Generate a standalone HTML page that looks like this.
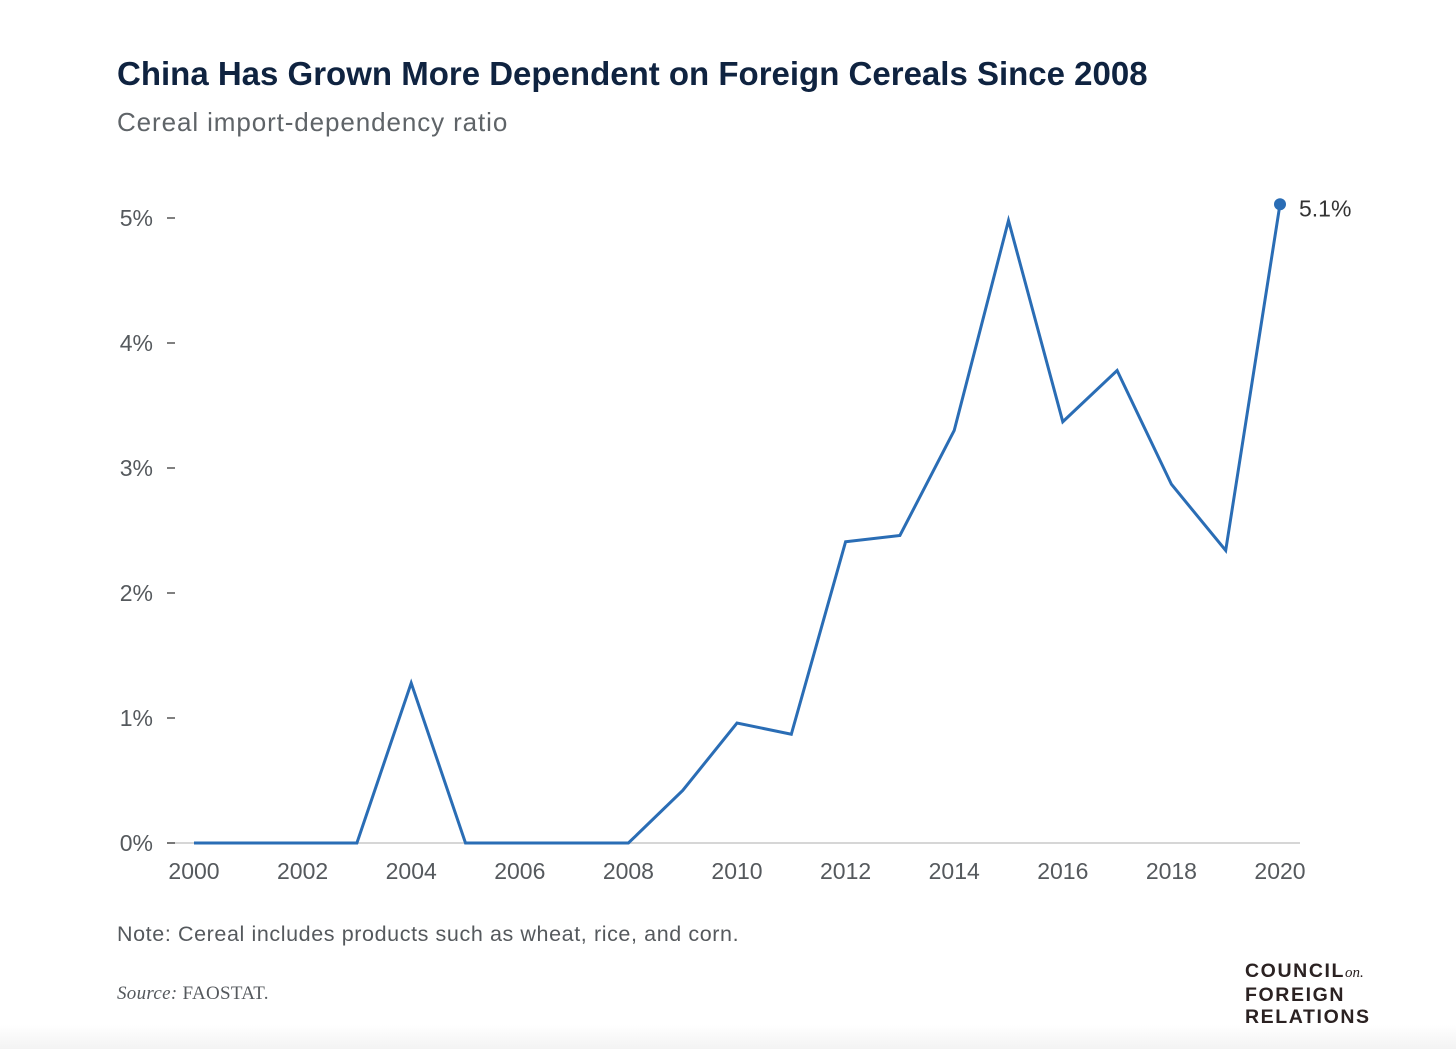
<!DOCTYPE html>
<html><head><meta charset="utf-8"><style>
body{margin:0;width:1456px;height:1049px;background:#fff;font-family:"Liberation Sans",sans-serif;overflow:hidden;position:relative}
.t{position:absolute;white-space:nowrap}
</style></head><body>
<div class="t" style="left:117px;top:55px;font-size:33px;font-weight:bold;color:#0f2340;letter-spacing:0px">China Has Grown More Dependent on Foreign Cereals Since 2008</div>
<div class="t" style="left:117px;top:107px;font-size:26px;color:#5f6468;letter-spacing:0.9px">Cereal import-dependency ratio</div>
<svg id="c" width="1456" height="1049" style="position:absolute;left:0;top:0"></svg>
<div class="t" style="left:117px;top:922px;font-size:21.5px;color:#55595d;letter-spacing:0.6px">Note: Cereal includes products such as wheat, rice, and corn.</div>
<div class="t" style="left:117px;top:983px;font-size:19px;color:#55595d;font-family:'Liberation Serif',serif;letter-spacing:0.3px"><i>Source:</i> FAOSTAT.</div>
<div class="t" style="left:1245px;top:960px;font-size:19.5px;line-height:22px;color:#2b2222;letter-spacing:1.6px;font-weight:bold;-webkit-text-stroke:0">COUNCIL<i style="font-family:'Liberation Serif',serif;font-size:15px;letter-spacing:0;font-weight:normal">on.</i><br>FOREIGN<br>RELATIONS</div>
<div style="position:absolute;left:0;top:1025px;width:1456px;height:24px;background:linear-gradient(#fff,#f3f3f3)"></div>
<script>
const years=[2000,2001,2002,2003,2004,2005,2006,2007,2008,2009,2010,2011,2012,2013,2014,2015,2016,2017,2018,2019,2020];
const values=[0,0,0,0,1.28,0,0,0,0,0.42,0.96,0.87,2.41,2.46,3.30,4.98,3.37,3.78,2.87,2.34,5.11];
const yTicks=[0,1,2,3,4,5];
const xTicks=[2000,2002,2004,2006,2008,2010,2012,2014,2016,2018,2020];
const svg=document.getElementById('c');const NS='http://www.w3.org/2000/svg';
const x=v=>194+(v-2000)*(1280-194)/20;
const y=v=>843-v*125;
function mk(t,a){const e=document.createElementNS(NS,t);for(const k in a)e.setAttribute(k,a[k]);svg.appendChild(e);return e;}
const base=mk('line',{x1:167,x2:1300,y1:y(0),y2:y(0),stroke:'#c8c8c8','stroke-width':1.5});


yTicks.forEach(v=>{
 const l=mk('line',{x1:167,x2:175,y1:y(v),y2:y(v),stroke:'#555','stroke-width':1.5});
 
 
 const t=mk('text',{x:153,y:y(v)+8,'text-anchor':'end','font-size':23,fill:'#55595d','font-family':'Liberation Sans, sans-serif'});
 t.textContent=v+'%';
 
 
});
xTicks.forEach(v=>{
 const t=mk('text',{x:x(v),y:879,'text-anchor':'middle','font-size':23,fill:'#55595d','font-family':'Liberation Sans, sans-serif'});
 t.textContent=v;
 
 
});
const p=mk('polyline',{points:years.map((yr,i)=>x(yr)+','+y(values[i])).join(' '),fill:'none',stroke:'#2a6db5','stroke-width':3,'stroke-linejoin':'miter'});


const n=years.length-1;
const d=mk('circle',{cx:x(years[n]),cy:y(values[n]),r:6,fill:'#2a6db5'});


const lb=mk('text',{x:x(years[n])+19,y:y(values[n])+12,'font-size':23,fill:'#333','font-family':'Liberation Sans, sans-serif'});
lb.textContent=values[n].toFixed(1)+'%';


</script>
</body></html>
